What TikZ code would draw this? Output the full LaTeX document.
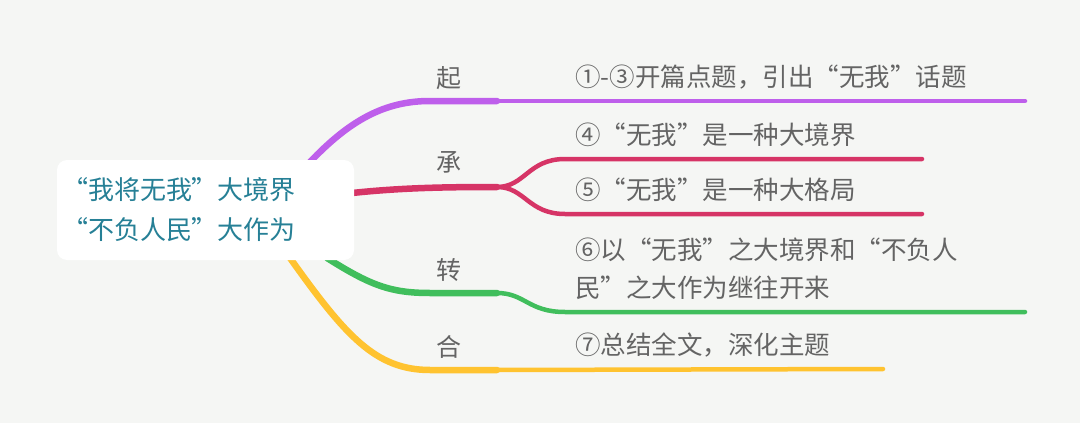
\documentclass[tikz,border=0pt]{standalone}
\usepackage{fontspec}
\newfontfamily\cjk{Noto Sans CJK SC}
\definecolor{bgc}{RGB}{245,246,244}
\definecolor{cpurple}{RGB}{190,95,235}
\definecolor{ccrimson}{RGB}{214,52,102}
\definecolor{cgreen}{RGB}{64,190,92}
\definecolor{cyellow}{RGB}{255,195,48}
\definecolor{cgray}{RGB}{100,100,100}
\definecolor{cteal}{RGB}{38,128,150}
\pgfdeclarelayer{back}
\pgfdeclarelayer{bg}
\pgfsetlayers{back,bg,main}
\tikzset{
  mainbr/.style={line width=6.5pt, line cap=round},
  subbr/.style={line width=4.5pt, line cap=round},
  lbl/.style={font=\cjk\fontsize{25}{30}\selectfont, text=cgray, inner sep=0pt},
  leaf/.style={font=\cjk\fontsize{25.5}{38}\selectfont, text=cgray, inner sep=0pt, anchor=west, align=left},
  rootbox/.style={fill=white, rounded corners=10pt, minimum height=100pt, inner xsep=5pt, inner ysep=0pt,
    text width=287pt, font=\cjk\fontsize{26}{40}\selectfont, text=cteal, align=left}
}
\begin{document}
\begin{tikzpicture}[x=1pt,y=-1pt]
\begin{pgfonlayer}{back}
\fill[bgc] (0,0) rectangle (1080,423);
\end{pgfonlayer}
\useasboundingbox (0,0) rectangle (1080,423);
% root
\node[rootbox] (root) at (205.5,210) {“我将无我”大境界\\“不负人民”大作为};
% branch points
\coordinate (pS) at (310,162);
\coordinate (pM) at (497,101);
\coordinate (pE) at (1025,101);
\coordinate (cS) at (352,193);
\coordinate (cM) at (497,187);
\coordinate (cE1) at (922,159);
\coordinate (cE2) at (922,214);
\coordinate (gS) at (327,258);
\coordinate (gM) at (497,293);
\coordinate (gE) at (1025,312);
\coordinate (yS) at (290,258);
\coordinate (yM) at (497,370);
\coordinate (yE) at (883,369);
\begin{pgfonlayer}{bg}
\draw[mainbr, cpurple] (pS) .. controls (350,120) and (385,101) .. (430,101) -- (pM);
\draw[subbr, cpurple] (pM) -- (pE);
\draw[mainbr, ccrimson] (cS) .. controls (400,188) and (440,187) .. (cM);
\draw[subbr, ccrimson] (cM) .. controls (525,187) and (528,159) .. (565,159) -- (cE1);
\draw[subbr, ccrimson] (cM) .. controls (525,187) and (528,214) .. (565,214) -- (cE2);
\draw[mainbr, cgreen] (gS) .. controls (370,285) and (390,293) .. (430,293) -- (gM);
\draw[subbr, cgreen] (gM) .. controls (525,293) and (528,312) .. (565,312) -- (gE);
\draw[mainbr, cyellow] (yS) .. controls (345,335) and (375,370) .. (430,370) -- (yM);
\draw[subbr, cyellow] (yM) -- (yE);
\end{pgfonlayer}
% labels
\node[lbl] (lq) at (449,78) {起};
\node[lbl] (lc) at (449,162) {承};
\node[lbl] (lz) at (449,270) {转};
\node[lbl] (lh) at (449,347) {合};
% leaves
\node[leaf] (t1) at (575,77) {①-③开篇点题，引出“无我”话题};
\node[leaf] (t2) at (575,135) {④“无我”是一种大境界};
\node[leaf] (t3) at (575,190) {⑤“无我”是一种大格局};
\node[leaf] (t4) at (575,269) {⑥以“无我”之大境界和“不负人\\民”之大作为继往开来};
\node[leaf] (t5) at (575,345) {⑦总结全文，深化主题};
\end{tikzpicture}
\end{document}
